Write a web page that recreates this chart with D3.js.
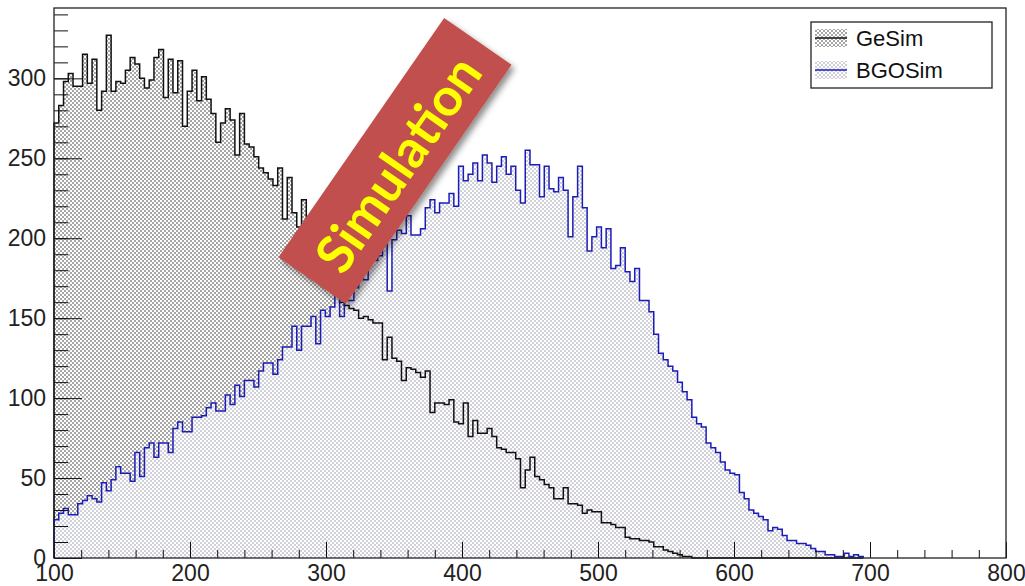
<!DOCTYPE html>
<html>
<head>
<meta charset="utf-8">
<script src="https://cdn.jsdelivr.net/npm/d3@7"></script>
<style>
  html, body { margin: 0; padding: 0; background: #fff; }
  svg { display: block; }
  .axis text { font-family: "Liberation Sans", Arial, sans-serif; fill: #222; }
  .axis line { stroke: #111; }
</style>
</head>
<body>
<div id="graf"></div>
<script>
// Histogramas simulados: cuentas por bin (bin de 3.5 desde 100)
const binStart = 100
const binWidth = 3.5

const geSim = [
  272, 283, 298, 303, 295, 295, 315, 297, 312, 280,
  292, 327, 292, 298, 297, 305, 313, 309, 300, 294,
  299, 313, 318, 288, 312, 291, 311, 270, 292, 305,
  286, 301, 287, 278, 260, 272, 281, 274, 252, 278,
  259, 257, 251, 244, 241, 237, 233, 244, 212, 238,
  216, 207, 224, 205, 196, 192, 184, 178, 171, 166,
  160, 158, 156, 155, 150, 151, 149, 147, 147, 124,
  138, 125, 123, 111, 119, 118, 116, 113, 117, 91,
  97, 97, 96, 99, 85, 84, 97, 76, 86, 78,
  78, 81, 76, 69, 68, 66, 66, 62, 44, 55,
  63, 51, 49, 46, 44, 37, 37, 44, 34, 34,
  33, 28, 30, 29, 29, 22, 22, 21, 19, 19,
  13, 12, 12, 11, 11, 10, 7, 7, 5, 4,
  3, 2, 1, 1, 0, 0, 0, 0, 0, 0,
  0, 0, 0, 0, 0, 0, 0, 0, 0, 0,
  0, 0, 0, 0, 0, 0, 0, 0, 0, 0,
  0, 0, 0, 0, 0, 0, 0, 0, 0, 0
]

const bgoSim = [
  24, 28, 31, 27, 27, 34, 36, 39, 37, 35,
  47, 42, 49, 57, 53, 53, 48, 66, 51, 69,
  72, 63, 72, 72, 66, 81, 85, 79, 79, 88,
  88, 89, 94, 97, 92, 92, 102, 96, 108, 101,
  111, 111, 107, 117, 122, 122, 115, 124, 132, 132,
  145, 130, 145, 145, 151, 134, 155, 151, 157, 165,
  151, 161, 161, 169, 178, 174, 186, 186, 189, 197,
  167, 199, 205, 203, 214, 202, 202, 206, 219, 224,
  216, 222, 222, 228, 220, 245, 236, 240, 247, 236,
  252, 247, 235, 245, 251, 240, 245, 230, 222, 255,
  246, 246, 226, 245, 231, 229, 238, 230, 201, 226,
  245, 219, 192, 201, 207, 194, 206, 181, 183, 194,
  179, 173, 181, 161, 161, 154, 140, 128, 124, 120,
  117, 110, 104, 99, 88, 84, 82, 72, 69, 66,
  60, 55, 53, 52, 41, 37, 30, 28, 26, 24,
  17, 19, 18, 14, 11, 11, 9, 9, 8, 6,
  4, 4, 2, 2, 1, 1, 3, 1, 2, 1
]

const xMajor = [100, 200, 300, 400, 500, 600, 700, 800]
const yMajor = [0, 50, 100, 150, 200, 250, 300]
const xDomain = [100, 800]
const yDomain = [0, 344]
const leyenda = ["GeSim", "BGOSim"]
const etiqueta = "Simulation"

// Dimensiones
const anchoTotal = 1025
const altoTotal = 586
const margins = { top: 8, right: 19, bottom: 28, left: 54 }
const ancho = anchoTotal - margins.left - margins.right
const alto = altoTotal - margins.top - margins.bottom

const colorGe = "#111"
const colorBgo = "#1c1cb8"

const svg = d3.select("#graf")
  .append("svg")
  .attr("width", anchoTotal)
  .attr("height", altoTotal)

const defs = svg.append("defs")

// patrones de puntos (estilo ROOT)
function patron(id, color) {
  const p = defs.append("pattern")
    .attr("id", id)
    .attr("patternUnits", "userSpaceOnUse")
    .attr("width", 4)
    .attr("height", 4)
  p.append("rect").attr("width", 4).attr("height", 4).attr("fill", "#fff")
  p.append("rect").attr("x", 0).attr("y", 0).attr("width", 2).attr("height", 2).attr("fill", color)
  p.append("rect").attr("x", 2).attr("y", 2).attr("width", 2).attr("height", 2).attr("fill", color)
}
patron("pat-ge", "#a6a6a6")
patron("pat-bgo", "#d0d0d8")

const sombra = defs.append("filter")
  .attr("id", "sombra")
  .attr("x", "-20%").attr("y", "-20%")
  .attr("width", "140%").attr("height", "140%")
sombra.append("feDropShadow")
  .attr("dx", 3).attr("dy", 4)
  .attr("stdDeviation", 3)
  .attr("flood-color", "#000")
  .attr("flood-opacity", 0.45)

const g = svg.append("g")
  .attr("transform", `translate(${margins.left}, ${margins.top})`)

// Escaladores
const x = d3.scaleLinear().domain(xDomain).range([0, ancho])
const y = d3.scaleLinear().domain(yDomain).range([alto, 0])

// camino escalonado del histograma
function escalones(datos) {
  const fin = binStart + datos.length * binWidth
  let d = `M${x(binStart)},${y(0)}`
  datos.forEach((v, i) => {
    const lo = binStart + i * binWidth
    const hi = lo + binWidth
    d += `L${x(lo)},${y(v)}L${x(hi)},${y(v)}`
  })
  d += `L${x(fin)},${y(0)}`
  return d
}

// rellenos
g.append("path").attr("d", escalones(geSim) + "Z").attr("fill", "url(#pat-ge)")
g.append("path").attr("d", escalones(bgoSim) + "Z").attr("fill", "url(#pat-bgo)")

// lineas
g.append("path").attr("d", escalones(geSim))
  .attr("fill", "none").attr("stroke", colorGe).attr("stroke-width", 1.5)
g.append("path").attr("d", escalones(bgoSim))
  .attr("fill", "none").attr("stroke", colorBgo).attr("stroke-width", 1.5)

// Ejes
const yMinor = d3.range(yDomain[0], yDomain[1], 10)
const xMinor = d3.range(xDomain[0], xDomain[1], 20)

g.append("g").classed("axis", true)
  .call(d3.axisLeft(y).tickValues(yMinor).tickSize(-14).tickFormat(""))
  .call(a => a.select(".domain").remove())

g.append("g").classed("axis", true)
  .call(d3.axisLeft(y).tickValues(yMajor).tickSize(-28).tickPadding(8))
  .call(a => a.select(".domain").remove())
  .selectAll("text")
  .style("font-size", "23px")

g.append("g").classed("axis", true)
  .attr("transform", `translate(0, ${alto})`)
  .call(d3.axisBottom(x).tickValues(xMinor).tickSize(-8).tickFormat(""))
  .call(a => a.select(".domain").remove())

g.append("g").classed("axis", true)
  .attr("transform", `translate(0, ${alto})`)
  .call(d3.axisBottom(x).tickValues(xMajor).tickSize(-16).tickPadding(7))
  .call(a => a.select(".domain").remove())
  .selectAll("text")
  .style("font-size", "23px")

// marco
g.append("rect")
  .attr("width", ancho)
  .attr("height", alto)
  .attr("fill", "none")
  .attr("stroke", "#222")
  .attr("stroke-width", 1.3)

// Leyenda
const ley = svg.append("g").attr("transform", "translate(811, 22)")
ley.append("rect")
  .attr("width", 181).attr("height", 66)
  .attr("fill", "#fff").attr("stroke", "#222").attr("stroke-width", 1.3)

const entradas = [
  { label: leyenda[0], pat: "url(#pat-ge)", color: colorGe },
  { label: leyenda[1], pat: "url(#pat-bgo)", color: colorBgo }
]
entradas.forEach((e, i) => {
  const cy = 16 + i * 32
  ley.append("rect")
    .attr("x", 4).attr("y", cy - 9)
    .attr("width", 32).attr("height", 18)
    .attr("fill", e.pat)
  ley.append("line")
    .attr("x1", 4).attr("x2", 36)
    .attr("y1", cy).attr("y2", cy)
    .attr("stroke", e.color).attr("stroke-width", 1.5)
  ley.append("text")
    .attr("x", 45).attr("y", cy)
    .attr("dy", "0.36em")
    .style("font-family", "'Liberation Sans', Arial, sans-serif")
    .style("font-size", "22px")
    .attr("fill", "#111")
    .text(e.label)
})

// Cartel "Simulation"
const cx = 395, cyB = 161, largo = 291, grueso = 82, ang = -55.3
svg.append("g").attr("filter", "url(#sombra)")
  .append("rect")
  .attr("transform", `translate(${cx}, ${cyB}) rotate(${ang})`)
  .attr("x", -largo / 2).attr("y", -grueso / 2)
  .attr("width", largo).attr("height", grueso)
  .attr("fill", "#c0504d")

const txt = svg.append("text")
  .attr("transform", `translate(${cx + 3}, ${cyB + 3}) rotate(${ang})`)
  .attr("text-anchor", "middle")
  .attr("dy", "0.36em")
  .style("font-family", "Lato, 'Open Sans', sans-serif")
  .style("font-weight", "700")
  .style("font-size", "50px")
  .attr("fill", "#ffff00")
  .text(etiqueta)
const med = txt.node().getComputedTextLength()
txt.style("font-size", (50 * 248 / med).toFixed(1) + "px")
</script>
</body>
</html>
